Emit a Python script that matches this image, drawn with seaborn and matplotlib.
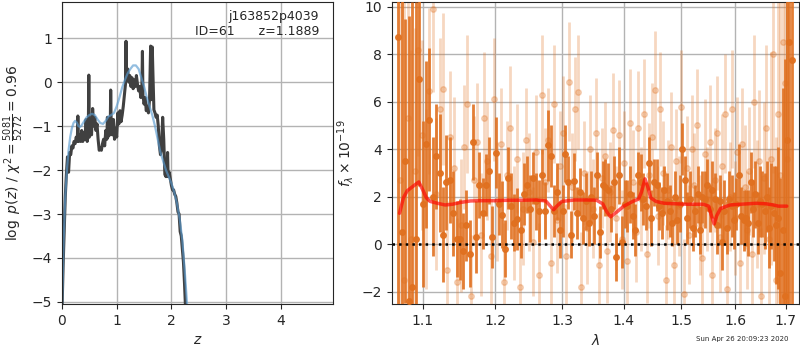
import numpy as np
import matplotlib
matplotlib.use("Agg")
import matplotlib.pyplot as plt
import seaborn as sns
from matplotlib.ticker import FormatStrFormatter, NullLocator

# ---- p(z) panel ----
pz_z = [0.00, 0.02, 0.04, 0.06, 0.08, 0.10, 0.12, 0.14, 0.16, 0.18,
        0.20, 0.22, 0.24, 0.26, 0.28, 0.29, 0.30, 0.32, 0.34, 0.36,
        0.38, 0.40, 0.42, 0.44, 0.46, 0.48, 0.49, 0.50, 0.52, 0.54,
        0.56, 0.58, 0.60, 0.62, 0.64, 0.66, 0.68, 0.70, 0.72, 0.74,
        0.76, 0.78, 0.80, 0.82, 0.83, 0.84, 0.86, 0.88, 0.89, 0.90,
        0.92, 0.94, 0.96, 0.98, 1.00, 1.02, 1.04, 1.06, 1.08, 1.10,
        1.12, 1.14, 1.16, 1.17, 1.18, 1.20, 1.22, 1.24, 1.26, 1.28,
        1.30, 1.32, 1.34, 1.36, 1.38, 1.40, 1.42, 1.44, 1.46, 1.47,
        1.48, 1.50, 1.52, 1.54, 1.56, 1.58, 1.60, 1.62, 1.63, 1.64,
        1.65, 1.66, 1.68, 1.70, 1.72, 1.74, 1.76, 1.78, 1.80, 1.82,
        1.84, 1.86, 1.88, 1.90, 1.92, 1.93, 1.94, 1.96, 1.98, 2.00,
        2.02, 2.04, 2.06, 2.08, 2.10, 2.12, 2.14, 2.16, 2.18, 2.20,
        2.22, 2.24, 2.26]
pz_log = [-5.2, -4.2, -3.4, -2.6, -2.1, -1.7, -2.05, -1.6, -1.65, -1.45,
          -1.5, -1.35, -1.4, -1.25, -1.35, -0.77, -1.35, -1.2, -1.35, -1.1,
          -1.35, -1.15, -1.3, -0.85, -1.35, -1.2, 0.16, -1.25, -0.9, -1.2,
          -0.6, -1.0, -0.8, -1.1, -0.95, -1.3, -1.55, -1.5, -1.55, -1.4,
          -1.3, -1.45, -1.1, -1.3, -0.8, -1.25, -0.9, -1.2, -0.18, -1.0,
          -1.2, -0.85, -1.3, -1.05, -1.25, -0.7, -0.95, -0.65, -0.9, -0.75,
          -0.55, -0.3, -0.05, 0.93, 0.05, 0.3, 0.0, 0.15, -0.1, 0.1,
          -0.15, 0.05, -0.1, 0.15, -0.05, -0.2, -0.1, -0.35, -0.15, 0.7,
          -0.3, -0.5, -0.35, -0.65, -0.55, -0.7, -0.4, 0.82, -0.2, -0.4,
          0.8, 0.3, -0.63, -0.7, -0.8, -0.75, -1.0, -1.45, -1.65, -1.5,
          -0.8, -1.3, -2.1, -2.15, -1.95, -1.6, -2.15, -2.05, -2.2, -2.35,
          -2.45, -2.45, -2.55, -2.6, -2.75, -2.95, -3.0, -3.4, -3.5, -3.8,
          -4.1, -4.6, -5.2]

smooth_z = [0.00, 0.03, 0.06, 0.09, 0.12, 0.15, 0.18, 0.21, 0.24, 0.27,
            0.30, 0.33, 0.36, 0.40, 0.45, 0.50, 0.55, 0.60, 0.65, 0.70,
            0.75, 0.80, 0.85, 0.90, 0.95, 1.00, 1.05, 1.10, 1.15, 1.20,
            1.25, 1.30, 1.35, 1.40, 1.45, 1.50, 1.55, 1.60, 1.65, 1.70,
            1.75, 1.80, 1.85, 1.90, 1.95, 2.00, 2.05, 2.10, 2.15, 2.20,
            2.25, 2.30]
smooth_log = [-5.3, -3.6, -2.6, -2.0, -1.55, -1.25, -1.05, -0.93, -0.88, -0.92,
              -1.0, -1.02, -0.98, -0.9, -0.8, -0.75, -0.72, -0.75, -0.85, -0.93,
              -0.95, -0.88, -0.78, -0.75, -0.7, -0.55, -0.35, -0.12, 0.05, 0.2,
              0.3, 0.38, 0.38, 0.3, 0.1, -0.1, -0.35, -0.55, -0.75, -1.0,
              -1.3, -1.6, -1.8, -2.0, -2.15, -2.3, -2.5, -2.75, -3.1, -3.6,
              -4.4, -5.3]

# ---- spectrum panel (flux in 1e-19) ----
dark_flux = [8.75, 0.5, 3.5, -2.4, -1.8, 0.2, 6.96, 1.7, 4.2, 5.25,
             2.0, 3.7, 3.0, 0.4, 2.6, 2.7, 1.3, 0.2, 0.2, -0.3,
             0.8, -0.4, 4.3, 0.3, 2.5, 1.3, 2.5, 3.1, 0.3, 3.85,
             1.7, 1.24, -0.2, 2.8, 1.6, 0.9, 1.05, 0.6, 2.1, 2.5,
             1.5, 2.8, 1.8, 1.4, 2.9, 1.4, 4.17, 3.7, 1.4, 2.2,
             0.6, 1.4, 3.8, 2.6, 0.4, 2.65, 1.3, 2.2, 1.1, 1.8,
             0.9, 2.0, 1.2, 2.9, 0.5, 2.5, 2.4, 2.3, 1.5, 2.6,
             -0.55, 2.9, 0.1, 1.7, 1.6, 2.1, 1.2, 0.6, 2.9, 2.6,
             1.9, 1.6, 3.4, 1.1, 2.6, 2.5, 1.6, 1.3, 2.3, 1.8,
             1.4, 0.9, 2.0, 1.0, 1.7, 4.0, 2.7, 1.1, 1.9, 0.7,
             1.4, 2.1, 0.6, 2.0, 1.9, 2.5, 1.5, 2.3, 1.9, 0.8,
             1.8, 0.1, 1.4, 0.7, 1.9, 1.6, 1.0, 1.7, 2.9, 1.2,
             1.0, 1.1, 0.9, 2.6, 1.5, 2.1, 0.9, 1.8, 1.7, 1.4,
             2.0, 0.7, 1.6, 1.3, 0.8, 1.1, -1.2, 0.6, -2.2, 4.4,
             8.5, 7.75]
dark_err = [12, 12, 6, 12, 12, 10, 4.5, 3.5, 3.5, 3.0,
            2.5, 2.2, 2.5, 2.0, 2.0, 1.8, 1.8, 1.6, 1.7, 1.6,
            1.5, 1.4, 1.6, 1.5, 1.4, 1.5, 1.3, 1.4, 1.3, 1.5,
            1.3, 1.4, 1.2, 1.3, 1.4, 1.2, 1.3, 1.2, 1.3, 1.2,
            1.4, 1.1, 1.2, 1.3, 1.1, 1.2, 1.5, 1.3, 1.1, 1.2,
            1.2, 1.1, 1.2, 1.1, 1.0, 1.2, 1.1, 1.0, 1.1, 1.2,
            1.0, 1.1, 1.2, 1.0, 1.1, 1.0, 1.2, 1.1, 1.0, 1.1,
            1.0, 1.2, 1.1, 1.0, 1.1, 1.2, 1.0, 1.1, 1.0, 1.2,
            1.1, 1.0, 1.1, 1.2, 1.0, 1.1, 1.0, 1.1, 1.0, 1.2,
            1.1, 1.0, 1.1, 1.0, 1.2, 1.1, 1.0, 1.1, 1.2, 1.0,
            1.1, 1.2, 1.0, 1.1, 1.2, 1.1, 1.0, 1.2, 1.1, 1.2,
            1.1, 1.2, 1.3, 1.1, 1.2, 1.3, 1.2, 1.1, 1.3, 1.2,
            1.3, 1.2, 1.4, 1.3, 1.2, 1.4, 1.3, 1.5, 1.4, 1.6,
            1.5, 1.7, 1.8, 2.0, 2.5, 3.0, 4.0, 6.0, 10, 12,
            12, 12]
dark_wave_range = (1.068, 1.712)

light_flux = [2.7, -1.5, 5.3, 0.2, 3.1, 8.2, 4.6, 1.9, 6.45, 9.9,
              2.1, 5.7, 6.55, -1.1, 4.5, 3.2, -1.6, 0.8, 4.1, 5.9,
              -2.2, 2.7, 4.3, 0.4, 5.3, 3.5, -0.5, 6.1, 1.8, 4.2,
              -1.6, 2.9, 4.9, 0.9, 3.6, -1.8, 1.5, 4.4, 2.2, 0.1,
              3.9, -1.3, 6.3, 2.6, 4.4, -0.8, 5.9, 1.0, 3.3, 4.7,
              -0.5, 6.85, 2.4, 5.7, 6.4, -1.8, 3.0, 0.7, 4.0, 1.5,
              4.7, -0.9, 2.8, 3.7, -0.3, 2.2, 4.8, 1.1, 4.6, 0.2,
              3.4, -0.7, 5.1, 2.6, 0.5, 4.9, 1.9, 5.5, -0.4, 2.9,
              4.5, 6.5, 1.2, 5.7, 3.0, -1.5, 2.3, 4.1, -0.9, 3.5,
              1.6, 5.8, -2.1, 3.2, 0.4, 4.0, 2.5, 5.0, 0.8, -0.6,
              3.8, 1.9, 4.3, -1.3, 2.7, 4.7, 0.3, 3.3, 5.5, -1.9,
              2.0, 5.7, 1.1, 3.9, -0.8, 4.2, 2.4, 0.6, 3.1, -0.4,
              6.0, 1.7, 3.5, -2.2, 2.8, 4.9, 0.2, 3.6, 8.0, -1.5,
              5.5, 2.9, 8.5, 6.8, 3.6]
light_err = [12, 12, 10, 8, 6, 4.5, 4.0, 3.8, 3.5, 3.5,
             3.2, 3.0, 3.2, 2.9, 2.8, 3.0, 2.7, 2.8, 2.6, 2.9,
             2.6, 2.7, 2.5, 2.6, 2.8, 2.5, 2.4, 2.6, 2.5, 2.4,
             2.5, 2.3, 2.6, 2.4, 2.3, 2.5, 2.4, 2.2, 2.5, 2.3,
             2.4, 2.2, 2.5, 2.3, 2.2, 2.4, 2.5, 2.2, 2.3, 2.4,
             2.2, 2.5, 2.3, 2.2, 2.4, 2.3, 2.2, 2.4, 2.3, 2.1,
             2.3, 2.2, 2.1, 2.3, 2.2, 2.1, 2.4, 2.2, 2.3, 2.1,
             2.2, 2.1, 2.3, 2.2, 2.1, 2.4, 2.2, 2.3, 2.1, 2.2,
             2.3, 2.5, 2.1, 2.4, 2.2, 2.3, 2.1, 2.3, 2.2, 2.2,
             2.1, 2.4, 2.3, 2.2, 2.1, 2.3, 2.2, 2.4, 2.1, 2.2,
             2.3, 2.2, 2.4, 2.3, 2.2, 2.4, 2.3, 2.2, 2.5, 2.4,
             2.3, 2.5, 2.4, 2.3, 2.5, 2.4, 2.6, 2.5, 2.7, 2.6,
             2.8, 2.7, 3.0, 2.9, 3.2, 3.5, 3.8, 4.5, 5.0, 6.0,
             8.0, 10, 12, 12, 12]
light_wave_range = (1.071, 1.703)

model_wave = [1.070, 1.075, 1.080, 1.088, 1.095, 1.100, 1.105, 1.110, 1.120, 1.130,
              1.140, 1.150, 1.165, 1.180, 1.200, 1.220, 1.240, 1.260, 1.275, 1.282,
              1.287, 1.292, 1.300, 1.320, 1.340, 1.355, 1.365, 1.372, 1.378, 1.388,
              1.400, 1.415, 1.425, 1.430, 1.436, 1.441, 1.446, 1.455, 1.470, 1.490,
              1.510, 1.540, 1.550, 1.555, 1.560, 1.565, 1.572, 1.590, 1.610, 1.640,
              1.660, 1.675, 1.685, 1.702]
model_flux = [1.3, 1.95, 2.25, 2.45, 2.62, 2.3, 1.95, 1.8, 1.72, 1.65,
              1.68, 1.75, 1.82, 1.83, 1.83, 1.85, 1.85, 1.86, 1.82, 1.6,
              1.45, 1.6, 1.8, 1.86, 1.86, 1.85, 1.7, 1.35, 1.15, 1.35,
              1.6, 1.8, 1.9, 2.2, 2.75, 2.4, 1.95, 1.8, 1.72, 1.7,
              1.68, 1.68, 1.6, 1.2, 0.85, 1.2, 1.5, 1.65, 1.68, 1.72,
              1.7, 1.65, 1.6, 1.6]

id_text = "j163852p4039\nID=61      z=1.1889"
stamp = "Sun Apr 26 20:09:23 2020"

sns.set_style("ticks")
plt.rcParams["font.family"] = ["DejaVu Sans"]

orange = "#e0701f"
fig = plt.figure(figsize=(8, 3.5), dpi=100)
ax1 = fig.add_axes([0.0775, 0.131, 0.3385, 0.863])
ax2 = fig.add_axes([0.4896, 0.131, 0.5094, 0.863])

# left: p(z)
sns.lineplot(x=pz_z, y=pz_log, ax=ax1, color="0.25", lw=2.2,
             sort=False, estimator=None)
sns.lineplot(x=smooth_z, y=smooth_log, ax=ax1, color="#5a9bd0", lw=1.6,
             alpha=0.65, sort=False, estimator=None)
ax1.set_xlim(0, 4.95)
ax1.set_ylim(-5.05, 1.82)
ax1.set_xticks([0, 1, 2, 3, 4])
ax1.set_yticks([-5, -4, -3, -2, -1, 0, 1])
ax1.grid(True, color="0.7", lw=1)
ax1.set_xlabel("$z$")
ax1.set_ylabel(r"$\log\ p(z)$" + " / " + r"$\chi^2=\frac{5081}{5272}=0.96$")
ax1.text(0.95, 0.975, id_text, transform=ax1.transAxes, ha="right", va="top",
         fontsize=9, multialignment="right")

# right: spectrum
dwave = np.linspace(*dark_wave_range, len(dark_flux))
lwave = np.linspace(*light_wave_range, len(light_flux))
ax2.errorbar(lwave, light_flux, yerr=light_err, fmt="o", color=orange,
             alpha=0.28, ms=4, lw=2, elinewidth=2, zorder=2)
ax2.errorbar(dwave, dark_flux, yerr=dark_err, fmt="o", color=orange,
             alpha=0.9, ms=4, lw=2, elinewidth=2, zorder=3)
sns.lineplot(x=model_wave, y=model_flux, ax=ax2, color="red", lw=2.5,
             alpha=0.65, sort=False, estimator=None, zorder=5)
ax2.axhline(0, color="k", ls=":", lw=1.8, zorder=6)
ax2.set_xscale("log")
ax2.set_xlim(1.060, 1.7275)
ax2.set_ylim(-2.53, 10.2)
ax2.set_xticks([1.1, 1.2, 1.3, 1.4, 1.5, 1.6, 1.7])
ax2.xaxis.set_major_formatter(FormatStrFormatter("%.1f"))
ax2.xaxis.set_minor_locator(NullLocator())
ax2.set_yticks([-2, 0, 2, 4, 6, 8, 10])
ax2.grid(True, color="0.7", lw=1)
ax2.set_axisbelow(True)
ax2.set_xlabel(r"$\lambda$")
ax2.set_ylabel(r"$f_\lambda \times 10^{-19}$")

fig.text(0.985, 0.022, stamp, ha="right", va="bottom", fontsize=5)

fig.savefig("out.png", dpi=100)
